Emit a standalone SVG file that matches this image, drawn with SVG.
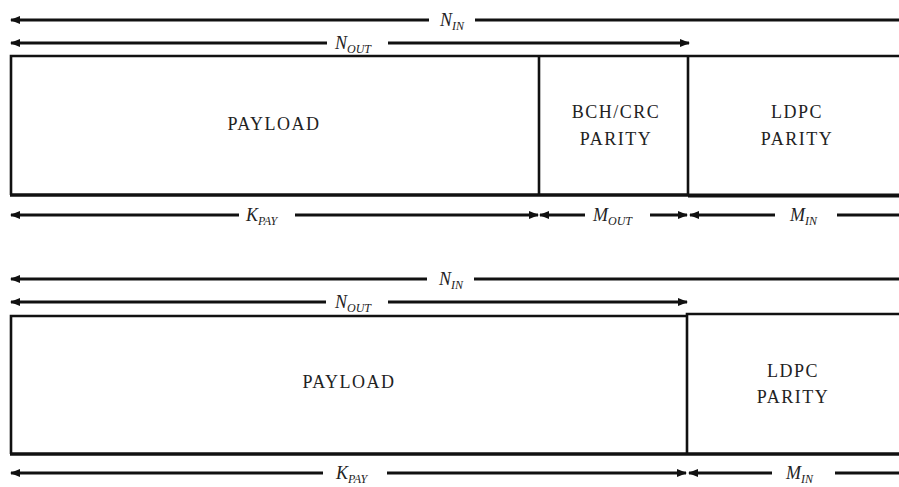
<svg xmlns="http://www.w3.org/2000/svg" width="899" height="487" viewBox="0 0 899 487">
<style>
.ln{stroke:#111;stroke-width:2.8;fill:none}
.bx{stroke:#111;stroke-width:2.6;fill:none}
.bt{stroke:#111;stroke-width:3.4;fill:none}
.tx{font-family:"Liberation Serif","DejaVu Serif",serif;font-size:18px;letter-spacing:1.5px;fill:#222;text-anchor:middle}
.lb{font-family:"Liberation Serif","DejaVu Serif",serif;font-size:18px;font-style:italic;fill:#222}
.sb{font-size:12px}
</style>
<defs>
<marker id="ae" markerUnits="userSpaceOnUse" markerWidth="10" markerHeight="8" refX="9" refY="4" orient="auto"><path d="M0,0 L10,4 L0,8 Z" fill="#111"/></marker>
<marker id="as" markerUnits="userSpaceOnUse" markerWidth="10" markerHeight="8" refX="1" refY="4" orient="auto"><path d="M10,0 L0,4 L10,8 Z" fill="#111"/></marker>
</defs>
<rect width="899" height="487" fill="#fff"/>
<g id="top-frame">
<g id="payload1"><path class="bx" d="M899,56 H11 V195"/><path class="bt" d="M10,195 H539"/><text class="tx" x="274" y="130">PAYLOAD</text></g>
<g id="bch1"><path class="bx" d="M539,56 V195"/><path class="bt" d="M539,195 H688"/><text class="tx" x="616" y="118">BCH/CRC</text><text class="tx" x="616" y="145">PARITY</text></g>
<g id="ldpc1"><path class="bx" d="M688,56 V195"/><path d="M688,195.5 H899" stroke="#111" stroke-width="4.2"/><text class="tx" x="797" y="118">LDPC</text><text class="tx" x="797" y="145">PARITY</text></g>
</g>
<g id="bottom-frame">
<g id="payload2"><path class="bx" d="M687,316 H11 V454"/><path class="bt" d="M10,454 H687"/><text class="tx" x="349" y="388">PAYLOAD</text></g>
<g id="ldpc2"><path class="bx" d="M899,314 H687 V454"/><path class="bt" d="M687,454 H899"/><text class="tx" x="793" y="377">LDPC</text><text class="tx" x="793" y="403">PARITY</text></g>
</g>
<g id="connectors">
<path class="ln" d="M11,20 H429" marker-start="url(#as)"/><path class="ln" d="M475,20 H899"/>
<path class="ln" d="M11,43 H327" marker-start="url(#as)"/><path class="ln" d="M388,43 H689" marker-end="url(#ae)"/>
<path class="ln" d="M11,215 H239" marker-start="url(#as)"/><path class="ln" d="M295,215 H538" marker-end="url(#ae)"/>
<path class="ln" d="M540,215 H585" marker-start="url(#as)"/><path class="ln" d="M650,215 H687" marker-end="url(#ae)"/>
<path class="ln" d="M690,215 H775" marker-start="url(#as)"/><path class="ln" d="M837,215 H899"/>
<path class="ln" d="M11,279 H427" marker-start="url(#as)"/><path class="ln" d="M474,279 H899"/>
<path class="ln" d="M11,302 H326" marker-start="url(#as)"/><path class="ln" d="M388,302 H687" marker-end="url(#ae)"/>
<path class="ln" d="M11,473 H323" marker-start="url(#as)"/><path class="ln" d="M387,473 H686" marker-end="url(#ae)"/>
<path class="ln" d="M689,473 H772" marker-start="url(#as)"/><path class="ln" d="M835,473 H899"/>
</g>
<g id="labels">
<text class="lb" x="440" y="26">N<tspan class="sb" dy="4">IN</tspan></text>
<text class="lb" x="335" y="49">N<tspan class="sb" dy="4">OUT</tspan></text>
<text class="lb" x="246" y="221">K<tspan class="sb" dy="4">PAY</tspan></text>
<text class="lb" x="593" y="221">M<tspan class="sb" dy="4">OUT</tspan></text>
<text class="lb" x="790" y="221">M<tspan class="sb" dy="4">IN</tspan></text>
<text class="lb" x="439" y="285">N<tspan class="sb" dy="4">IN</tspan></text>
<text class="lb" x="335" y="308">N<tspan class="sb" dy="4">OUT</tspan></text>
<text class="lb" x="336" y="479">K<tspan class="sb" dy="4">PAY</tspan></text>
<text class="lb" x="786" y="479">M<tspan class="sb" dy="4">IN</tspan></text>
</g>
</svg>
